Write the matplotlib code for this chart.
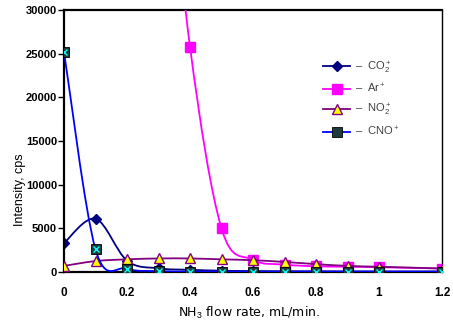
import numpy as np
import matplotlib
matplotlib.use("Agg")
import matplotlib.pyplot as plt
from matplotlib.path import Path
from matplotlib.patches import PathPatch
from matplotlib.lines import Line2D

plt.rcParams['font.family'] = ['Liberation Sans', 'DejaVu Sans']
plt.rcParams['mathtext.fontset'] = 'custom'
plt.rcParams['mathtext.rm'] = 'Liberation Sans'
plt.rcParams['mathtext.it'] = 'Liberation Sans'
plt.rcParams['mathtext.bf'] = 'Liberation Sans:bold'

# ---- data ----
x_co2 = [0, 0.1, 0.2, 0.3, 0.4, 0.5, 0.6, 0.7, 0.8, 0.9, 1.0, 1.2]
co2 = [3300, 6100, 1300, 420, 250, 150, 100, 80, 70, 60, 50, 50]

x_ar = [0.3, 0.4, 0.5, 0.6, 0.7, 0.8, 0.9, 1.0, 1.2]
ar = [60000, 25800, 5000, 1400, 850, 650, 600, 550, 400]

x_no2 = [0, 0.1, 0.2, 0.3, 0.4, 0.5, 0.6, 0.7, 0.8, 0.9, 1.0, 1.2]
no2 = [700, 1250, 1450, 1550, 1550, 1450, 1350, 1150, 900, 700, 600, 400]

x_cno = [0, 0.1, 0.2, 0.3, 0.4, 0.5, 0.6, 0.7, 0.8, 0.9, 1.0, 1.2]
cno = [25200, 2600, 400, 100, 50, 50, 50, 50, 50, 50, 50, 50]

labels = ["CO$_2^+$", "Ar$^+$", "NO$_2^+$", "CNO$^+$"]
x_ticks = [0, 0.2, 0.4, 0.6, 0.8, 1, 1.2]
x_ticklabels = ["0", "0.2", "0.4", "0.6", "0.8", "1", "1.2"]
y_ticks = [0, 5000, 10000, 15000, 20000, 25000, 30000]


def smooth_path(xs, ys):
    xs = np.asarray(xs, float)
    ys = np.asarray(ys, float)
    pts = np.column_stack([xs, ys])
    n = len(pts)
    verts = [pts[0]]
    codes = [Path.MOVETO]
    for i in range(n - 1):
        p0 = pts[i - 1] if i > 0 else pts[i]
        p1 = pts[i]
        p2 = pts[i + 1]
        p3 = pts[i + 2] if i + 2 < n else pts[i + 1]
        c1 = p1 + (p2 - p0) / 6.0
        c2 = p2 - (p3 - p1) / 6.0
        verts += [c1, c2, p2]
        codes += [Path.CURVE4] * 3
    return Path(verts, codes)


fig = plt.figure(figsize=(4.53, 3.2), dpi=100)
ax = fig.add_axes([64 / 453, 1 - 272 / 320, 378 / 453, 262 / 320])

series = [
    (x_co2, co2, '#000080', dict(marker='D', ms=5.5, mfc='#000080', mec='#000080')),
    (x_ar, ar, '#FF00FF', dict(marker='s', ms=7, mfc='#FF00FF', mec='#FF00FF')),
    (x_no2, no2, '#800080', dict(marker='^', ms=7.5, mfc='#FFFF00', mec='#800080', mew=1.0)),
    (x_cno, cno, '#0000FF', dict(marker='s', ms=6.5, mfc='#1E3A3A', mec='#000000', mew=0.6)),
]

handles = []
for i, (xs, ys, col, mk) in enumerate(series):
    patch = PathPatch(smooth_path(xs, ys), facecolor='none', edgecolor=col,
                      lw=1.3, zorder=2 + i, clip_on=True)
    ax.add_patch(patch)
    ax.plot(xs, ys, ls='none', zorder=2.5 + i, **mk)
    if i == 3:
        ax.plot(xs, ys, ls='none', marker='x', ms=4.5, mec='#00FFFF', mew=1.0,
                zorder=2.6 + i)
    h = Line2D([], [], color=col, lw=1.3, **mk)
    handles.append(h)

ax.set_xlim(0, 1.2)
ax.set_ylim(0, 30000)
ax.set_xticks(x_ticks)
ax.set_xticklabels(x_ticklabels)
ax.set_yticks(y_ticks)
ax.tick_params(axis='x', length=0, pad=11, labelsize=8.5)
ax.tick_params(axis='y', length=4, width=1, pad=1, labelsize=8, direction='out')
for lbl in ax.get_xticklabels() + ax.get_yticklabels():
    lbl.set_fontweight('bold')

for side in ['left', 'bottom', 'top']:
    ax.spines[side].set_linewidth(1.6)
ax.spines['right'].set_linewidth(1.0)

ax.set_xlabel("NH$_3$ flow rate, mL/min.", fontsize=9, family='DejaVu Sans')
ax.xaxis.set_label_coords(0.49, -0.125)
ax.set_ylabel("Intensity, cps", fontsize=9)
ax.yaxis.set_label_coords(-0.10, 0.313)

leg = ax.legend(handles, ["–  " + l for l in labels], loc='upper left',
                bbox_to_anchor=(0.66, 0.85), frameon=False, fontsize=8,
                handlelength=2.4, labelspacing=0.6, handletextpad=0.4,
                labelcolor='#404040')

fig.savefig("out.png", dpi=100)
